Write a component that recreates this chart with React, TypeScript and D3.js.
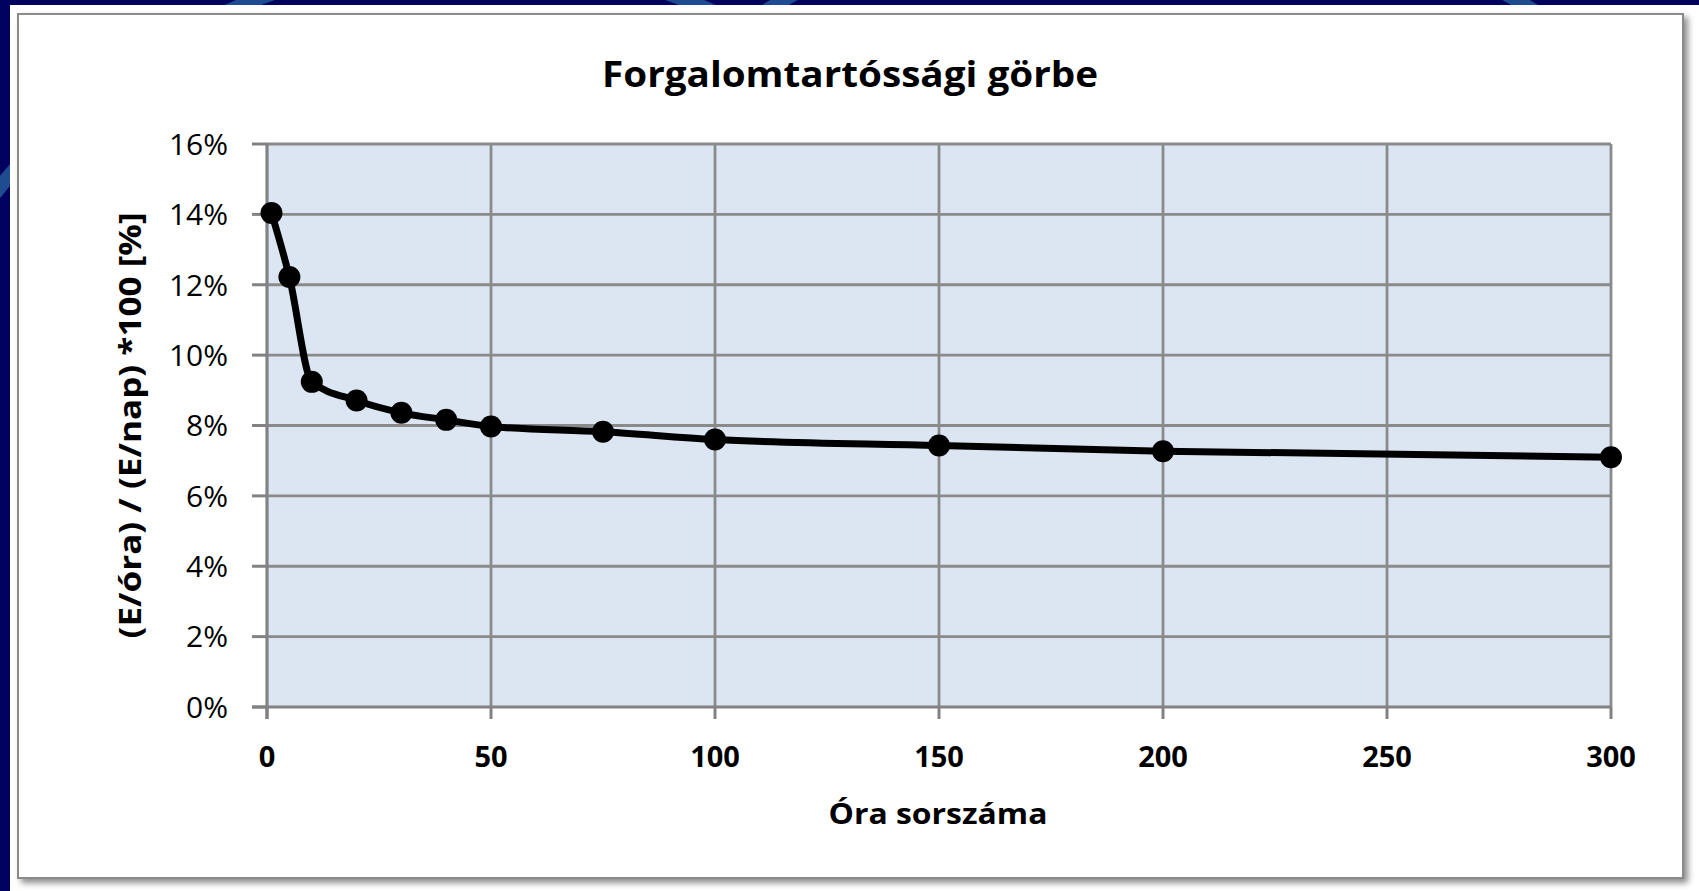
import * as d3 from 'd3'

// hour rank (x) and hourly share of daily traffic in % (y)
const hours = [1, 5, 10, 20, 30, 40, 50, 75, 100, 150, 200, 300]
const shares = [14.04, 12.22, 9.24, 8.71, 8.36, 8.16, 7.97, 7.82, 7.6, 7.43, 7.27, 7.1]
const xTicks = [0, 50, 100, 150, 200, 250, 300]
const yTicks = [0, 2, 4, 6, 8, 10, 12, 14, 16]
const chartTitle = 'Forgalomtartóssági görbe'
const xTitle = 'Óra sorszáma'
const yTitle = '(E/óra) / (E/nap) *100 [%]'

const width = 1699,
      height = 891,
      plot = { left: 267, right: 1611, top: 144, bottom: 707 },
      font = '"Open Sans", Lato, sans-serif',
      gridColor = '#8a8a8a',
      axisColor = '#828282'

export default function App() {
  const x = d3.scaleLinear().domain([0, 300]).range([plot.left, plot.right])
  const y = d3.scaleLinear().domain([0, 16]).range([plot.bottom, plot.top])

  const pts = hours.map((h, i) => [h, shares[i]] as [number, number])

  const curve = d3.line<[number, number]>()
    .x(d => x(d[0]))
    .y(d => y(d[1]))
    .curve(d3.curveMonotoneX)(pts)

  return (
    <svg width={width} height={height} style={{ position: 'fixed', left: 0, top: 0 }}>
      <defs>
        <filter id='shadow' x='-5%' y='-5%' width='110%' height='110%'>
          <feDropShadow dx='4' dy='4' stdDeviation='3' floodColor='#000' floodOpacity='0.45' />
        </filter>
        <clipPath id='strip'>
          <path d={`M0,0H${width}V5H10V${height}H0Z`} />
        </clipPath>
      </defs>

      {/* slide background behind the chart */}
      <rect width={width} height={height} fill='#01015f' />
      <g clipPath='url(#strip)' fill='none' stroke='#24599a' strokeWidth='14' opacity='0.85'>
        <circle cx={470} cy={560} r={600} />
        <circle cx={1150} cy={620} r={720} />
        <circle cx={-180} cy={140} r={170} />
        <circle cx={-300} cy={530} r={290} />
      </g>
      <rect x={10} y={5} width={width - 10} height={height - 5} fill='#fff' />

      {/* chart area */}
      <rect x={18} y={14} width={1665} height={864} fill='#fff' stroke='#8a8a8a' strokeWidth='2' filter='url(#shadow)' />

      <text x={850} y={87} textAnchor='middle' fontFamily={font} fontWeight='bold' fontSize='35' fill='#000'
            textLength={496} lengthAdjust='spacingAndGlyphs'>
        {chartTitle}
      </text>

      {/* plot area */}
      <rect x={plot.left} y={plot.top} width={plot.right - plot.left} height={plot.bottom - plot.top} fill='#dce6f2' />

      {yTicks.filter(t => t > 0).map(t => (
        <line key={'gy' + t} x1={plot.left} x2={plot.right} y1={y(t)} y2={y(t)} stroke={gridColor} strokeWidth='2.8' />
      ))}
      {xTicks.filter(t => t > 0).map(t => (
        <line key={'gx' + t} x1={x(t)} x2={x(t)} y1={plot.top} y2={plot.bottom} stroke={gridColor} strokeWidth='2.8' />
      ))}

      {/* axes */}
      <line x1={plot.left} x2={plot.left} y1={plot.top} y2={plot.bottom + 12} stroke={axisColor} strokeWidth='3.2' />
      <line x1={plot.left - 15} x2={plot.right} y1={plot.bottom} y2={plot.bottom} stroke={axisColor} strokeWidth='3.2' />
      {yTicks.map(t => (
        <g key={'yt' + t}>
          <line x1={plot.left - 15} x2={plot.left} y1={y(t)} y2={y(t)} stroke={axisColor} strokeWidth='3' />
          <text x={228} y={y(t)} dy='0.36em' textAnchor='end' fontFamily={font} fontSize='30' fill='#000'>
            {t + '%'}
          </text>
        </g>
      ))}
      {xTicks.map(t => (
        <g key={'xt' + t}>
          <line x1={x(t)} x2={x(t)} y1={plot.bottom} y2={plot.bottom + 12} stroke={axisColor} strokeWidth='3' />
          <text x={x(t)} y={767} textAnchor='middle' fontFamily={font} fontWeight='bold' fontSize='29' fill='#000'>
            {t}
          </text>
        </g>
      ))}

      {/* series */}
      <path d={curve ?? ''} fill='none' stroke='#000' strokeWidth='7' strokeLinejoin='round' />
      {pts.map((d, i) => (
        <circle key={i} cx={x(d[0])} cy={y(d[1])} r={11} fill='#000' />
      ))}

      <text x={938} y={824} textAnchor='middle' fontFamily={font} fontWeight='bold' fontSize='29' fill='#000'
            textLength={219} lengthAdjust='spacingAndGlyphs'>
        {xTitle}
      </text>
      <text transform={`translate(141, ${(plot.top + plot.bottom) / 2}) rotate(-90)`} textAnchor='middle'
            fontFamily={font} fontWeight='bold' fontSize='31' fill='#000'
            textLength={426} lengthAdjust='spacingAndGlyphs'>
        {yTitle}
      </text>
    </svg>
  )
}
